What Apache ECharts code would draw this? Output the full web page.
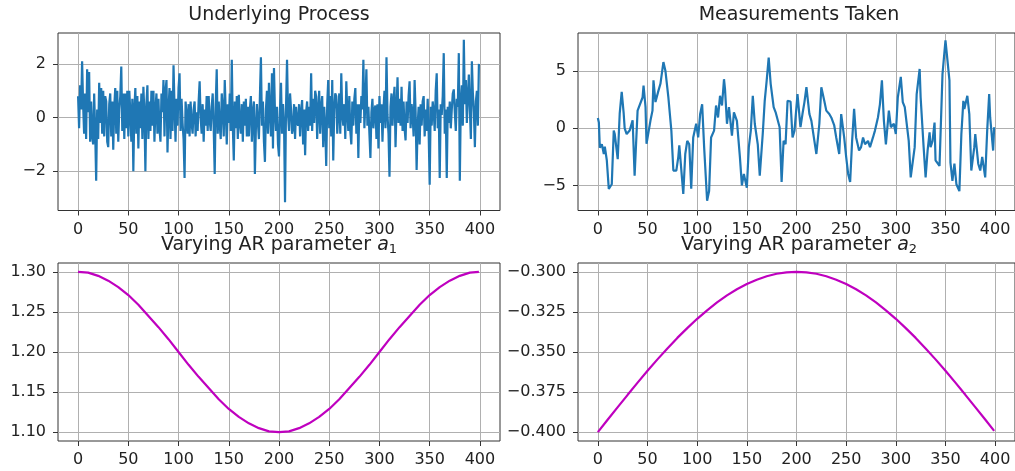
<!DOCTYPE html>
<html>
<head>
<meta charset="utf-8">
<script src="https://cdn.jsdelivr.net/npm/echarts@6/dist/echarts.min.js"></script>
<style>
  html, body { margin: 0; padding: 0; background: #ffffff; }
  #chart { width: 1015px; height: 471px; }
</style>
</head>
<body>
<div id="chart"></div>
<script>
// Panel titles
const titleNoise = 'Underlying Process';
const titleMeasure = 'Measurements Taken';
const titleA1 = '{n|Varying AR parameter }{a|a}{s|1}';
const titleA2 = '{n|Varying AR parameter }{a|a}{s|2}';

// Shared time-axis ticks
const timeTicks = [0, 50, 100, 150, 200, 250, 300, 350, 400];

// Value-axis ticks per panel
const noiseTicks = [-2, 0, 2];
const measureTicks = [-5, 0, 5];
const a1Ticks = [1.10, 1.15, 1.20, 1.25, 1.30];
const a2Ticks = [-0.400, -0.375, -0.350, -0.325, -0.300];

// Driving noise, one value per time step 0..399
const noiseValues = [
  0.8, -0.4, 1.2, 0.3, 2.1, 0.5, -0.6, 0.9, -0.8, 1.8,
  0.2, 1.7, -0.9, 0.6, -0.7, -1.0, 0.9, -0.5, -2.35, 0.3,
  -0.8, 1.3, -0.2, 1.1, -0.6, 1.0, -0.7, 0.8, 0.6, -0.9,
  -1.1, 0.5, 0.9, -0.7, 0.6, -1.2, 0.4, 1.1, -0.6, 1.0,
  -0.9, 0.3, 0.8, 1.9, -0.5, 0.9, -0.8, 0.9, -0.4, 1.0,
  -0.7, 1.0, 0.2, -0.9, 0.7, -2.0, 0.3, 1.1, -0.6, 0.8,
  -1.15, 0.6, -0.4, 0.9, -0.8, 1.15, 0.2, -2.0, 0.5, 1.2,
  -0.8, 0.6, -0.5, 1.0, -0.3, 1.0, -0.9, 0.3, 0.9, -0.6,
  0.7, -0.4, -0.9, 0.9, 0.2, 1.4, -0.7, 1.0, 1.4, -1.3,
  0.3, 1.1, -0.8, 1.0, -0.5, 1.95, 0.4, -0.9, 0.7, -0.3,
  1.1, 1.65, -0.5, 0.7, -0.2, -0.8, -2.25, 0.6, 0.1, -0.6,
  0.5, -0.7, 0.6, -0.2, -0.6, 0.3, 0.6, -0.7, 0.2, -0.5,
  0.6, 1.35, 0.0, -0.6, 0.5, -0.9, 0.3, -0.3, 0.8, -0.5,
  0.8, -0.1, -0.5, 0.4, 0.9, -0.4, -2.1, 0.5, 1.8, -0.6,
  0.6, -0.3, -0.8, 0.9, 0.3, -0.7, 1.4, 0.2, -1.0, 0.5,
  -0.2, 0.9, -0.5, 2.15, -0.3, -1.6, 0.6, -0.4, 0.8, -0.8,
  0.85, -0.2, -0.6, 0.5, -0.9, 0.6, -0.3, 0.7, -0.7, 0.4,
  -0.7, 0.3, 0.8, -0.9, 0.2, 0.6, -2.1, -0.4, 0.5, -0.2,
  -0.8, 0.8, 2.25, -0.3, 0.6, -0.9, -1.65, 0.3, 1.0, -0.6,
  1.3, 0.2, -0.7, 1.65, -1.15, 1.85, 0.2, -0.5, 0.4, -1.0,
  -1.45, 0.3, 1.3, -0.6, 0.5, -0.2, -3.15, 0.4, 2.15, 0.1,
  -0.5, 0.9, 0.3, -0.6, -0.4, 0.5, -0.8, 0.4, -0.2, -0.3,
  0.5, -0.7, 0.2, 0.65, -1.0, 0.3, -1.4, 0.2, 0.6, -0.5,
  0.4, -0.3, 1.65, -0.5, 0.7, -0.2, 1.0, 0.78, -0.8, 0.3,
  1.0, -0.6, 0.4, 0.8, -1.1, 0.4, -0.3, -1.8, 0.5, 1.4,
  -0.4, 0.8, -0.7, 1.4, -1.6, 0.3, 0.9, 0.8, -0.6, 0.2,
  0.9, -0.6, 1.65, 0.1, -0.3, 0.5, -0.8, 1.35, 0.2, -0.5,
  0.8, -0.5, -1.0, 0.6, -0.3, 0.7, 1.1, -0.6, 0.5, -1.5,
  0.5, -0.2, 0.8, 0.3, 2.15, -0.4, 0.6, 1.8, -0.3, 0.4,
  -0.6, -1.5, 0.2, 0.7, -0.4, 0.3, 0.45, -0.8, 0.5, -1.15,
  0.8, -0.2, 0.5, -0.9, 0.3, 1.0, -0.4, 2.25, 0.1, -0.6,
  -2.2, 0.4, 0.9, -0.3, 0.6, 1.15, -1.1, 0.3, 1.5, -0.2,
  0.7, -0.3, 1.15, -0.5, 0.6, -0.4, -0.85, 0.6, -0.2, 0.8,
  1.35, -0.4, 0.5, 0.1, -0.7, 1.4, 0.2, -1.95, -0.3, 0.4,
  -1.0, 0.5, -0.3, 0.6, 0.8, -0.7, 0.3, -0.5, 0.7, -0.6,
  -2.5, 0.4, -0.3, 0.6, 0.2, -0.5, 1.0, 1.65, -0.4, 0.3,
  -2.25, 0.5, 0.1, 0.8, 2.4, -0.6, 0.3, -2.25, 0.4, -0.2,
  0.6, -0.4, 0.3, 0.9, 1.05, 0.2, -0.5, 0.7, 0.4, 2.4,
  -2.35, 0.6, 1.2, -0.3, 2.9, 0.5, 1.4, -0.2, 0.8, 1.6,
  0.3, -0.8, 2.1, 0.9, 0.2, -1.1, 0.6, 1.0, -0.3, 2.0
];

// Measured signal: sample times and values
const measureTimes = [
  0, 1, 2, 4, 6, 7, 9, 11, 14, 16, 17, 20, 22, 24, 26, 27, 29, 32, 35, 37,
  40, 42, 45, 46, 48, 49, 51, 53, 55, 56, 58, 61, 63, 66, 68, 71, 74, 76, 79, 81,
  82, 86, 88, 90, 92, 94, 96, 99, 101, 103, 105, 107, 110, 112, 114, 117, 119, 121, 123, 125,
  127, 128, 130, 132, 135, 137, 140, 143, 145, 147, 150, 152, 154, 156, 158, 161, 163, 166, 168, 170,
  172, 174, 177, 179, 183, 185, 187, 189, 191, 194, 196, 198, 201, 204, 206, 208, 210, 213, 215, 218,
  220, 223, 225, 228, 230, 233, 235, 238, 240, 243, 245, 248, 250, 252, 254, 256, 258, 260, 263, 265,
  267, 269, 272, 274, 277, 279, 282, 284, 286, 288, 290, 293, 295, 298, 300, 302, 305, 307, 309, 313,
  315, 319, 321, 324, 325, 328, 330, 332, 334, 335, 337, 339, 340, 344, 347, 350, 354, 355, 357, 359,
  361, 364, 366, 368, 369, 372, 374, 376, 379, 380, 383, 385, 387, 390, 392, 394, 395, 398, 399
];
const measureValues = [
  0.9, 0.5, -1.7, -1.4, -2.25, -1.6, -2.8, -5.3, -4.9, -0.2, -0.5, -2.7, 1.3, 3.2, 1.3, 0.0, -0.5, -0.2, 0.7, -4.15,
  1.55, 1.7, 2.7, 3.75, 1.85, -1.35, -1.5, 0.7, 1.55, 4.2, 2.3, 3.3, 3.9, 5.8, 5.05, 2.7, -0.2, -3.7, -3.7, -2.5,
  -1.5, -5.75, -2.25, -1.1, -1.4, -5.3, -0.8, 0.4, -0.8, 1.25, 2.1, -1.65, -6.35, -5.5, -0.8, -0.2, 2.0, 0.95, 2.85, 2.0,
  4.3, 3.45, 0.4, 1.85, -0.65, 1.4, 0.65, -2.5, -5.0, -4.0, -5.2, -1.65, -0.2, 2.85, 0.4, -1.4, -4.15, -0.5, 2.4, 4.2,
  6.2, 3.9, 1.85, 1.4, 0.1, -4.7, -1.1, -1.4, 2.4, 2.35, -0.8, -0.2, 3.0, 0.1, 1.25, 2.3, 3.6, 1.25, 0.65, -1.1,
  -2.25, 0.4, 3.6, 2.4, 1.55, 1.25, 0.95, 0.25, -0.8, -2.25, 1.25, -0.8, -2.5, -4.0, -4.7, -1.1, 1.7, -0.8, -1.95, -1.65,
  -0.8, -1.4, -1.1, -1.65, -0.8, -0.2, 0.95, 2.1, 4.2, 0.65, -1.4, 1.55, 0.1, 0.4, -0.5, 2.7, 4.5, 2.3, 1.85, -1.1,
  -4.3, -1.65, 3.0, 5.2, 2.7, -1.65, -4.3, -1.95, -0.35, -1.65, -1.1, 0.5, -2.8, -3.3, 4.75, 7.7, 4.2, -3.0, -4.6, -3.1,
  -4.9, -5.5, -0.5, 2.4, 1.7, 2.85, 1.25, -3.7, -1.65, -0.5, -3.1, -3.7, -2.5, -4.3, -0.2, 3.0, 0.95, -1.95, 0.1, 0.1
];

// Time-varying AR coefficients
const paramTimes = [
  0, 10, 20, 30, 40, 50, 60, 70, 80, 90, 100, 110, 120, 130, 140, 150, 160, 170, 180, 190,
  200, 210, 220, 230, 240, 250, 260, 270, 280, 290, 300, 310, 320, 330, 340, 350, 360, 370, 380, 390, 399
];
const a1Values = [
  1.300, 1.299, 1.295, 1.289, 1.281, 1.271, 1.259, 1.245, 1.231, 1.216,
  1.200, 1.184, 1.169, 1.155, 1.141, 1.129, 1.119, 1.111, 1.105, 1.101,
  1.100, 1.101, 1.105, 1.111, 1.119, 1.129, 1.141, 1.155, 1.169, 1.184,
  1.200, 1.216, 1.231, 1.245, 1.259, 1.271, 1.281, 1.289, 1.295, 1.299, 1.300
];
const a2Values = [
  -0.4000, -0.3921, -0.3844, -0.3767, -0.3691, -0.3617, -0.3546, -0.3478, -0.3412, -0.3351,
  -0.3293, -0.3240, -0.3191, -0.3147, -0.3109, -0.3076, -0.3049, -0.3028, -0.3012, -0.3003,
  -0.3000, -0.3003, -0.3012, -0.3028, -0.3049, -0.3076, -0.3109, -0.3147, -0.3191, -0.3240,
  -0.3293, -0.3351, -0.3412, -0.3478, -0.3546, -0.3617, -0.3691, -0.3767, -0.3844, -0.3921, -0.3992
];

const FONT = 'DejaVu Sans';
const TEXT = '#222222';
const FRAME = '#333333';
const GRIDLINE = '#b0b0b0';
const BLUE = '#1f77b4';
const MAGENTA = '#bf00bf';

const uminus = s => String(s).replace('-', '\u2212');

const panels = [
  { left: 58,  top: 33,  width: 442, height: 177.5 },
  { left: 578, top: 33,  width: 442, height: 177.5 },
  { left: 58,  top: 263, width: 442, height: 178 },
  { left: 578, top: 263, width: 442, height: 178 }
];

const grid = panels.map(p => Object.assign({
  show: true, borderColor: FRAME, borderWidth: 1, backgroundColor: 'transparent'
}, p));

function timeAxis(i) {
  return {
    type: 'value', gridIndex: i, min: -20, max: 420,
    axisLine: { show: false, onZero: false },
    axisTick: { show: true, length: 5, customValues: timeTicks, lineStyle: { color: FRAME, width: 1 } },
    axisLabel: { customValues: timeTicks, margin: 11, fontFamily: FONT, fontSize: 16, color: TEXT },
    splitLine: { show: true, lineStyle: { color: GRIDLINE, width: 1 } }
  };
}

function valueAxis(i, min, max, ticks, fmt) {
  return {
    type: 'value', gridIndex: i, min: min, max: max,
    axisLine: { show: false, onZero: false },
    axisTick: { show: true, length: 5, customValues: ticks, lineStyle: { color: FRAME, width: 1 } },
    axisLabel: { customValues: ticks, margin: 12, fontFamily: FONT, fontSize: 16, color: TEXT, formatter: fmt },
    splitLine: { show: true, lineStyle: { color: GRIDLINE, width: 1 } }
  };
}

const titleStyle = {
  fontFamily: FONT, fontSize: 19, fontWeight: 'normal', color: TEXT, lineHeight: 22,
  rich: {
    n: { fontFamily: FONT, fontSize: 19, color: TEXT, lineHeight: 22 },
    a: { fontFamily: FONT, fontSize: 19, fontStyle: 'italic', color: TEXT, lineHeight: 22 },
    s: { fontFamily: FONT, fontSize: 13, color: TEXT, lineHeight: 4, verticalAlign: 'bottom' }
  }
};

function panelTitle(text, cx, top) {
  return { text: text, left: cx, top: top, textAlign: 'center', padding: 0, textStyle: titleStyle };
}

const chart = echarts.init(document.getElementById('chart'), null, { renderer: 'canvas' });
chart.setOption({
  animation: false,
  backgroundColor: '#ffffff',
  title: [
    panelTitle(titleNoise, 279, 4),
    panelTitle(titleMeasure, 799, 4),
    panelTitle(titleA1, 279, 234),
    panelTitle(titleA2, 799, 234)
  ],
  grid: grid,
  xAxis: [timeAxis(0), timeAxis(1), timeAxis(2), timeAxis(3)],
  yAxis: [
    valueAxis(0, -3.46, 3.15, noiseTicks, v => uminus(v)),
    valueAxis(1, -7.2, 8.35, measureTicks, v => uminus(v)),
    valueAxis(2, 1.089, 1.311, a1Ticks, v => uminus(v.toFixed(2))),
    valueAxis(3, -0.4055, -0.2945, a2Ticks, v => uminus(v.toFixed(3)))
  ],
  series: [
    {
      type: 'line', xAxisIndex: 0, yAxisIndex: 0, showSymbol: false,
      data: noiseValues.map((v, i) => [i, v]),
      lineStyle: { color: BLUE, width: 2.2 }, itemStyle: { color: BLUE }
    },
    {
      type: 'line', xAxisIndex: 1, yAxisIndex: 1, showSymbol: false,
      data: measureTimes.map((t, i) => [t, measureValues[i]]),
      lineStyle: { color: BLUE, width: 2.2 }, itemStyle: { color: BLUE }
    },
    {
      type: 'line', xAxisIndex: 2, yAxisIndex: 2, showSymbol: false,
      data: paramTimes.map((t, i) => [t, a1Values[i]]),
      lineStyle: { color: MAGENTA, width: 2.2 }, itemStyle: { color: MAGENTA }
    },
    {
      type: 'line', xAxisIndex: 3, yAxisIndex: 3, showSymbol: false,
      data: paramTimes.map((t, i) => [t, a2Values[i]]),
      lineStyle: { color: MAGENTA, width: 2.2 }, itemStyle: { color: MAGENTA }
    }
  ]
});
</script>
</body>
</html>
